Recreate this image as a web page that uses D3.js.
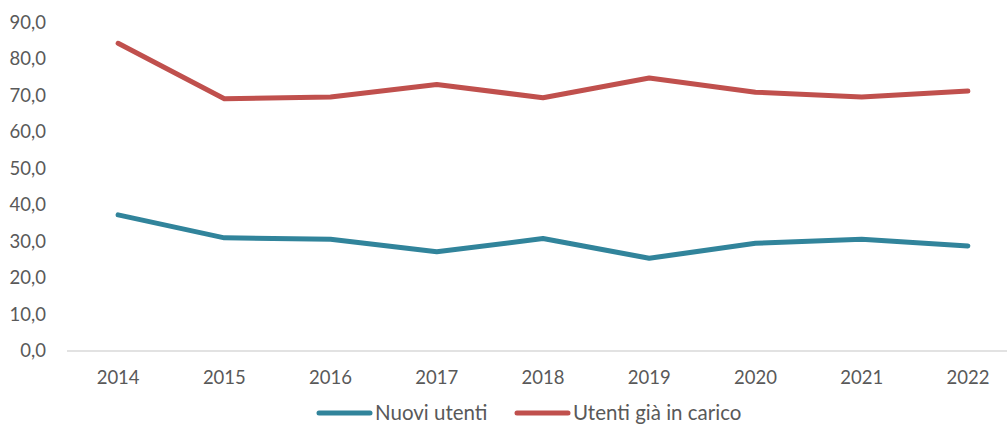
<!DOCTYPE html>
<html>
<head>
<meta charset="utf-8">
<script src="https://cdn.jsdelivr.net/npm/d3@7"></script>
<style>
  html, body { margin: 0; padding: 0; background: #ffffff; }
  svg { display: block; font-family: Lato, "Open Sans", sans-serif; }
</style>
</head>
<body>
<svg id="chart" width="1007" height="427"></svg>
<script>
const years = ["2014", "2015", "2016", "2017", "2018", "2019", "2020", "2021", "2022"];
const nuoviUtenti = [37.3, 31.0, 30.6, 27.2, 30.8, 25.4, 29.5, 30.6, 28.8];
const utentiInCarico = [84.3, 69.1, 69.6, 73.0, 69.4, 74.8, 70.9, 69.6, 71.2];
const yTicks = [0, 10, 20, 30, 40, 50, 60, 70, 80, 90];
const seriesNames = ["Nuovi utenti", "Utenti già in carico"];
const seriesColors = ["#31849B", "#C0504D"];

const svg = d3.select("#chart");
const textColor = "#595959";
const fmt = v => d3.format(".1f")(v).replace(".", ",");

const x = d3.scaleBand().domain(years).range([65, 1021]);
const y = d3.scaleLinear().domain([0, 90]).range([351, 22.5]);

// category axis
const xAxis = svg.append("g")
  .attr("transform", `translate(0,${y(0)})`)
  .call(d3.axisBottom(x).tickSize(0).tickPadding(20));
xAxis.select(".domain").remove();
xAxis.selectAll("text")
  .attr("fill", textColor)
  .style("font-size", "18.5px")
  .style("font-family", "Lato, sans-serif");

svg.append("line")
  .attr("x1", 67).attr("x2", 1007)
  .attr("y1", y(0)).attr("y2", y(0))
  .attr("stroke", "#D9D9D9")
  .attr("stroke-width", 1.5);

// value axis labels
const yAxis = svg.append("g")
  .attr("transform", "translate(46,0)")
  .call(d3.axisLeft(y).tickValues(yTicks).tickFormat(fmt).tickSize(0).tickPadding(0));
yAxis.select(".domain").remove();
yAxis.selectAll("text")
  .attr("fill", textColor)
  .style("font-size", "18.5px")
  .style("font-family", "Lato, sans-serif");

// series lines
const line = d3.line()
  .x((d, i) => x(years[i]) + x.bandwidth() / 2)
  .y(d => y(d));

[nuoviUtenti, utentiInCarico].forEach((vals, k) => {
  svg.append("path")
    .datum(vals)
    .attr("d", line)
    .attr("fill", "none")
    .attr("stroke", seriesColors[k])
    .attr("stroke-width", 5)
    .attr("stroke-linejoin", "round")
    .attr("stroke-linecap", "round");
});

// legend
const legendItems = [
  { name: seriesNames[0], color: seriesColors[0], x0: 317 },
  { name: seriesNames[1], color: seriesColors[1], x0: 515 }
];
const legendY = 413;
const lg = svg.append("g");
legendItems.forEach(it => {
  lg.append("line")
    .attr("x1", it.x0 + 2).attr("x2", it.x0 + 53)
    .attr("y1", legendY).attr("y2", legendY)
    .attr("stroke", it.color)
    .attr("stroke-width", 5)
    .attr("stroke-linecap", "round");
  lg.append("text")
    .attr("x", it.x0 + 58)
    .attr("y", legendY)
    .attr("dy", "0.35em")
    .attr("fill", textColor)
    .style("font-size", "20.5px")
    .text(it.name);
});
</script>
</body>
</html>
